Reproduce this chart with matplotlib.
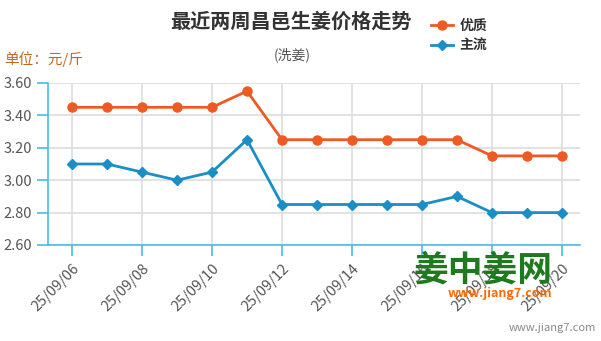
import matplotlib
matplotlib.use("Agg")
import matplotlib.pyplot as plt

plt.rcParams['font.family'] = ['Noto Sans CJK SC', 'DejaVu Sans']

dates = ['25/09/06', '25/09/07', '25/09/08', '25/09/09', '25/09/10', '25/09/11',
         '25/09/12', '25/09/13', '25/09/14', '25/09/15', '25/09/16', '25/09/17',
         '25/09/18', '25/09/19', '25/09/20']
premium = [3.45, 3.45, 3.45, 3.45, 3.45, 3.55, 3.25, 3.25, 3.25, 3.25, 3.25, 3.25,
           3.15, 3.15, 3.15]
mainstream = [3.10, 3.10, 3.05, 3.00, 3.05, 3.25, 2.85, 2.85, 2.85, 2.85, 2.85, 2.90,
              2.80, 2.80, 2.80]
y_ticks = [2.60, 2.80, 3.00, 3.20, 3.40, 3.60]

orange = '#ee5a24'
blue = '#1a8fc6'
axis_blue = '#45bde8'

fig = plt.figure(figsize=(6.01, 3.41), dpi=100)
ax = fig.add_axes([48 / 601, 1 - 245 / 341, 532 / 601, 162 / 341])

x = list(range(len(dates)))
ax.plot(x, premium, color=orange, lw=2, marker='o', ms=6.5, label='优质', zorder=3)
ax.plot(x, mainstream, color=blue, lw=2, marker='D', ms=5, label='主流', zorder=3)

ax.set_xlim(-24 / 35, len(dates) - 1 + 18 / 35)
ax.set_ylim(2.60, 3.60)
ax.set_yticks(y_ticks)
ax.set_yticklabels([f'{v:.2f}' for v in y_ticks], fontsize=10.5, color='#555555')
ax.set_xticks(x[::2])
ax.set_xticklabels(dates[::2], rotation=45, ha='right', rotation_mode='anchor',
                   fontsize=10.5, color='#555555')
ax.grid(True, color='#dddddd', lw=1.2)
ax.set_axisbelow(True)
for side in ['top', 'right']:
    ax.spines[side].set_visible(False)
for side in ['left', 'bottom']:
    ax.spines[side].set_color(axis_blue)
    ax.spines[side].set_linewidth(1.2)
ax.tick_params(axis='both', color=axis_blue, length=8, width=1.2)
ax.tick_params(axis='x', pad=4)

fig.text(291 / 601, 1 - 21 / 341, '最近两周昌邑生姜价格走势', fontsize=14.5, fontweight='bold',
         color='#333333', ha='center', va='center')
fig.text(292 / 601, 1 - 55 / 341, '(洗姜)', fontsize=10, color='#555555',
         ha='center', va='center')
fig.text(4 / 601, 1 - 59 / 341, '单位：元/斤', fontsize=10.5, color='#c8641e',
         ha='left', va='center')

leg = fig.legend(loc='upper left', bbox_to_anchor=(418 / 601, 1 - 6 / 341), frameon=False,
                 prop={'size': 10, 'weight': 'bold'}, handlelength=1.6,
                 labelspacing=0.45, handletextpad=0.5)
for t in leg.get_texts():
    t.set_color('#333333')

# logo watermark
fig.text(483 / 601, 1 - 270 / 341, '姜中姜网', fontsize=25, fontweight='bold',
         color='#1f7a1f', ha='center', va='center')
fig.text(500 / 601, 1 - 294 / 341, 'www.jiang7.com', fontsize=9, fontweight='bold',
         fontstyle='italic', color='#ff6a00', ha='center', va='center')
fig.text(596 / 601, 1 - 328 / 341, 'www.jiang7.com', fontsize=8, color='#888888',
         ha='right', va='center')

fig.savefig('out.png', dpi=100)
